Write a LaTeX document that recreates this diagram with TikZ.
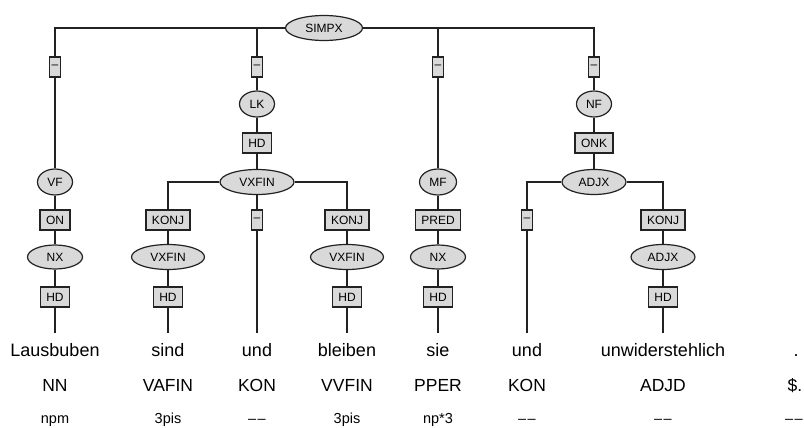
\documentclass[tikz,border=0pt]{standalone}
\usepackage{fontspec}
\setmainfont{Liberation Sans}
\usetikzlibrary{shapes.geometric}
\definecolor{catfill}{HTML}{D9D9D9}
\definecolor{ink}{HTML}{222222}
\newcommand{\nomorph}{\textendash\kern1.5pt\textendash}
\begin{document}
\begin{tikzpicture}[x=1pt,y=-1pt,line width=1.2pt,draw=ink,
  cat/.style={ellipse,draw=ink,fill=catfill,inner sep=0pt,minimum height=25pt,font=\fontsize{12}{12}\selectfont},
  lab/.style={rectangle,draw=ink,fill=catfill,inner xsep=6pt,inner ysep=0pt,minimum height=20pt,font=\fontsize{12}{12}\selectfont},
  nolab/.style={lab,inner xsep=2.5pt},
  word/.style={anchor=base,inner xsep=0pt,inner ysep=9pt,text height=13pt,text depth=4pt,font=\fontsize{18}{18}\selectfont},
  postag/.style={anchor=base,inner sep=0pt,font=\fontsize{17.5}{17.5}\selectfont},
  morph/.style={anchor=base,inner sep=0pt,font=\fontsize{14.5}{14.5}\selectfont},
  tree/.style={draw=ink,line width=1.2pt}]
\useasboundingbox (0,0) rectangle (804,428);
% root
\node[cat,minimum width=77pt] (simpx) at (324,28) {SIMPX};
% top-level edge labels
\node[nolab] (e1) at (55,67) {–};
\node[nolab] (e2) at (257,67) {–};
\node[nolab] (e3) at (438,67) {–};
\node[nolab] (e4) at (594,67) {–};
% column 1
\node[cat,minimum width=35pt,minimum height=26pt] (vf) at (55,182) {VF};
\node[lab] (on) at (55,220) {ON};
\node[cat,minimum width=55pt,minimum height=24pt] (nx1) at (55,257) {NX};
\node[lab] (hd1) at (55,297) {HD};
% LK
\node[cat,minimum width=35pt,minimum height=26pt] (lk) at (257,104) {LK};
\node[lab] (hdlk) at (257,143) {HD};
\node[cat,minimum width=74pt] (vx0) at (257,182) {VXFIN};
\node[lab] (k1) at (168,220) {KONJ};
\node[cat,minimum width=73pt] (vx1) at (168,257) {VXFIN};
\node[lab] (hd2) at (168,297) {HD};
\node[nolab] (e5) at (257,220) {–};
\node[lab] (k2) at (347,220) {KONJ};
\node[cat,minimum width=73pt] (vx2) at (347,257) {VXFIN};
\node[lab] (hd3) at (347,297) {HD};
% MF
\node[cat,minimum width=37pt,minimum height=26pt] (mf) at (438,182) {MF};
\node[lab] (pred) at (438,220) {PRED};
\node[cat,minimum width=55pt,minimum height=24pt] (nx2) at (438,257) {NX};
\node[lab] (hd4) at (438,297) {HD};
% NF
\node[cat,minimum width=35pt,minimum height=26pt] (nf) at (594,104) {NF};
\node[lab] (onk) at (594,143) {ONK};
\node[cat,minimum width=64pt] (adjx0) at (594,182) {ADJX};
\node[nolab] (e6) at (527,220) {–};
\node[lab] (k3) at (663,220) {KONJ};
\node[cat,minimum width=64pt] (adjx1) at (663,257) {ADJX};
\node[lab] (hd5) at (663,297) {HD};
% words
\node[word] (w1) at (55,356) {Lausbuben};
\node[word] (w2) at (168,356) {sind};
\node[word] (w3) at (257,356) {und};
\node[word] (w4) at (347,356) {bleiben};
\node[word] (w5) at (438,356) {sie};
\node[word] (w6) at (527,356) {und};
\node[word] (w7) at (663,356) {unwiderstehlich};
\node[word] (w8) at (796,356) {.};
% POS
\node[postag] (p1) at (55,391) {NN};
\node[postag] (p2) at (168,391) {VAFIN};
\node[postag] (p3) at (257,391) {KON};
\node[postag] (p4) at (347,391) {VVFIN};
\node[postag] (p5) at (438,391) {PPER};
\node[postag] (p6) at (527,391) {KON};
\node[postag] (p7) at (663,391) {ADJD};
\node[postag] (p8) at (795,391) {\$.};
% morph
\node[morph] (m1) at (55,423) {npm};
\node[morph] (m2) at (168,423) {3pis};
\node[morph] (m3) at (257,423) {\nomorph};
\node[morph] (m4) at (347,423) {3pis};
\node[morph] (m5) at (438,423) {np*3};
\node[morph] (m6) at (527,423) {\nomorph};
\node[morph] (m7) at (663,423) {\nomorph};
\node[morph] (m8) at (794,423) {\nomorph};
% connectors
\draw[tree] (simpx.west) -| (e1.north);
\draw[tree] (simpx.west) -| (e2.north);
\draw[tree] (simpx.east) -| (e3.north);
\draw[tree] (simpx.east) -| (e4.north);
\draw[tree] (e1) -- (vf);
\draw[tree] (vf) -- (on);
\draw[tree] (on) -- (nx1);
\draw[tree] (nx1) -- (hd1);
\draw[tree] (hd1) -- (w1.north);
\draw[tree] (e2) -- (lk);
\draw[tree] (lk) -- (hdlk);
\draw[tree] (hdlk) -- (vx0);
\draw[tree] (vx0.west) -| (k1.north);
\draw[tree] (k1) -- (vx1);
\draw[tree] (vx1) -- (hd2);
\draw[tree] (hd2) -- (w2.north);
\draw[tree] (vx0) -- (e5);
\draw[tree] (e5) -- (w3.north);
\draw[tree] (vx0.east) -| (k2.north);
\draw[tree] (k2) -- (vx2);
\draw[tree] (vx2) -- (hd3);
\draw[tree] (hd3) -- (w4.north);
\draw[tree] (e3) -- (mf);
\draw[tree] (mf) -- (pred);
\draw[tree] (pred) -- (nx2);
\draw[tree] (nx2) -- (hd4);
\draw[tree] (hd4) -- (w5.north);
\draw[tree] (e4) -- (nf);
\draw[tree] (nf) -- (onk);
\draw[tree] (onk) -- (adjx0);
\draw[tree] (adjx0.west) -| (e6.north);
\draw[tree] (e6) -- (w6.north);
\draw[tree] (adjx0.east) -| (k3.north);
\draw[tree] (k3) -- (adjx1);
\draw[tree] (adjx1) -- (hd5);
\draw[tree] (hd5) -- (w7.north);
\end{tikzpicture}
\end{document}
